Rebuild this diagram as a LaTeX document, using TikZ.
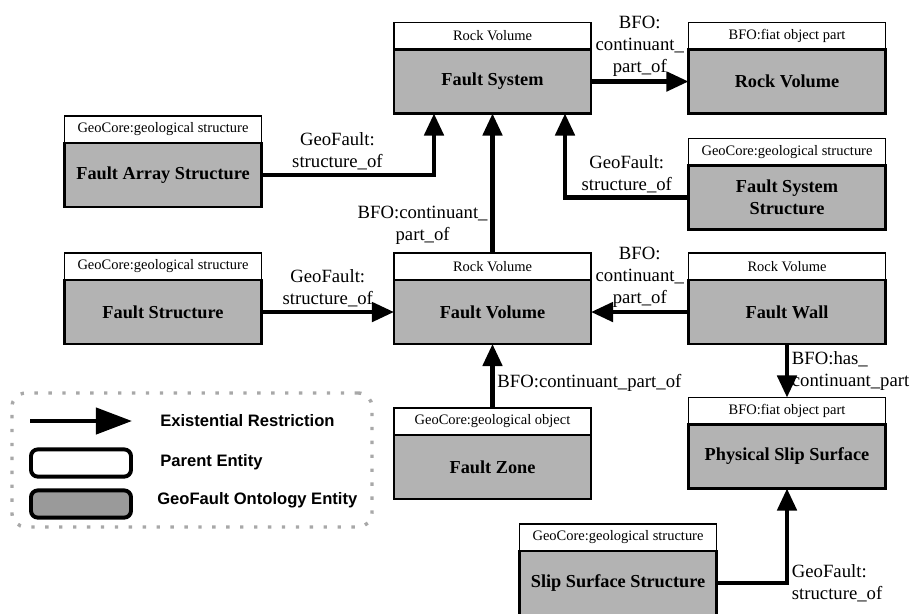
\documentclass[tikz,border=0pt]{standalone}
\usepackage{fontspec}
\setmainfont{Liberation Serif}
\newfontfamily\legendfont{Liberation Sans}
\usetikzlibrary{arrows.meta,positioning,calc}
\definecolor{entity}{HTML}{B3B3B3}
\definecolor{entitykey}{HTML}{9A9A9A}
\definecolor{keyline}{HTML}{A8A8A8}

\begin{document}
\begin{tikzpicture}[x=0.025cm,y=-0.025cm,
head/.style={draw,fill=white,line width=.8pt,outer sep=0pt,minimum width=4.925cm,minimum height=.675cm,inner sep=0pt,font=\fontsize{10.3}{12}\selectfont},
body/.style={draw,fill=entity,line width=1.9pt,outer sep=0pt,minimum width=4.925cm,minimum height=1.6cm,inner sep=2pt,align=center,font=\fontsize{13}{15.5}\selectfont\bfseries},
arrow/.style={-{Triangle[length=.55cm,width=.48cm]},line width=3pt},
rel/.style={align=center,inner sep=2pt,font=\fontsize{13.3}{15.6}\selectfont},
key/.style={anchor=west,inner sep=0pt,font=\legendfont\bfseries\fontsize{11.8}{14}\selectfont},
keybox/.style={draw,rounded corners=.17cm,line width=2.8pt,minimum width=2.5cm,minimum height=.68cm}]
\useasboundingbox (0,0) rectangle (919,613);
\node[head] (fsysT) at (492.5,36) {Rock Volume};
\node[body,below=0pt of fsysT] (fsys) {Fault System};
\node[head] (rvolT) at (787,36) {BFO:fiat object part};
\node[body,below=0pt of rvolT] (rvol) {Rock Volume};
\node[head] (farrT) at (163,129.5) {GeoCore:geological structure};
\node[body,below=0pt of farrT] (farr) {Fault Array Structure};
\node[head] (fssT) at (787,152) {GeoCore:geological structure};
\node[body,below=0pt of fssT] (fss) {Fault System\\Structure};
\node[head] (fstrT) at (163,266.5) {GeoCore:geological structure};
\node[body,below=0pt of fstrT] (fstr) {Fault Structure};
\node[head] (fvolT) at (492.5,266.5) {Rock Volume};
\node[body,below=0pt of fvolT] (fvol) {Fault Volume};
\node[head] (fwallT) at (787,266.5) {Rock Volume};
\node[body,below=0pt of fwallT] (fwall) {Fault Wall};
\node[head] (fzoneT) at (492.5,421.5) {GeoCore:geological object};
\node[body,below=0pt of fzoneT] (fzone) {Fault Zone};
\node[head] (pssT) at (787,411) {BFO:fiat object part};
\node[body,below=0pt of pssT] (pss) {Physical Slip Surface};
\node[head] (sssT) at (618,537.5) {GeoCore:geological structure};
\node[body,below=0pt of sssT] (sss) {Slip Surface Structure};
\draw[arrow] (fsys) -- node[rel,above]{BFO:\\continuant\_\\part\_of} (rvol);
\draw[arrow] (farr) -| node[rel,pos=.22,above]{GeoFault:\\structure\_of} ($(fsys.south)+(-58.5,0)$);
\draw[arrow] (fvolT) -- node[rel,pos=.2,left]{BFO:continuant\_\\part\_of} (fsys);
\draw[arrow] (fss) -| node[rel,pos=.25,above]{GeoFault:\\structure\_of} ($(fsys.south)+(72.5,0)$);
\draw[arrow] (fstr) -- node[rel,above]{GeoFault:\\structure\_of} (fvol);
\draw[arrow] (fwall) -- node[rel,above]{BFO:\\continuant\_\\part\_of} (fvol);
\draw[arrow] (fzoneT) -- node[rel,pos=.4,right]{BFO:continuant\_part\_of} (fvol);
\draw[arrow] (fwall) -- node[rel,right,align=left]{BFO:has\_\\continuant\_part} (pssT);
\draw[arrow] (sss) -| node[rel,pos=.5,right,align=left]{GeoFault:\\structure\_of} (pss);
\node[draw=keyline,line width=2.4pt,dash pattern=on 2.4pt off 7.5pt,rounded corners=.35cm,minimum width=9cm,minimum height=3.35cm] (key) at (192,460) {};
\coordinate (keyA) at (30,421);
\coordinate (keyB) at (132,421);
\draw[-{Triangle[length=.9cm,width=.65cm]},line width=3pt] (keyA) -- (keyB);
\node[key] (keyR) at (160,421) {Existential Restriction};
\node[keybox,fill=white] (keyP) at (81,463) {};
\node[key] (keyPt) at (160,462) {Parent Entity};
\node[keybox,fill=entitykey] (keyG) at (81,504) {};
\node[key] (keyGt) at (157,500) {GeoFault Ontology Entity};
\end{tikzpicture}
\end{document}
